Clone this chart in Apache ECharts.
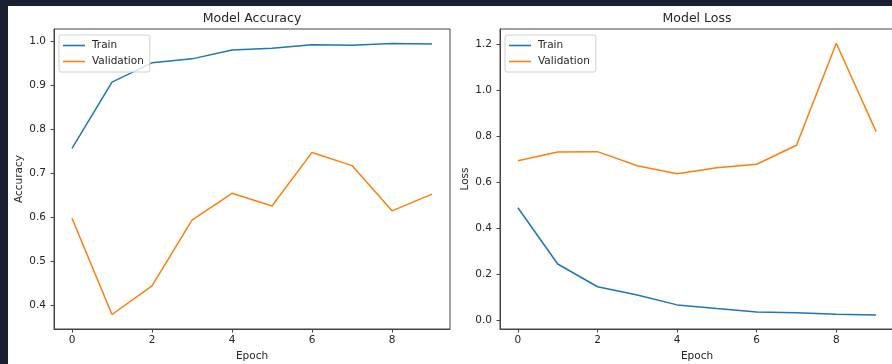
<!DOCTYPE html>
<html>
<head>
<meta charset="utf-8">
<script src="https://cdn.jsdelivr.net/npm/echarts@6/dist/echarts.min.js"></script>
<style>
html,body{margin:0;padding:0;background:#fff;}
#c{width:892px;height:364px;}
</style>
</head>
<body>
<div id="c"></div>
<script>
const epochs = [0,1,2,3,4,5,6,7,8,9];
const accTrain = [0.757,0.908,0.952,0.961,0.981,0.985,0.993,0.992,0.996,0.995];
const accVal = [0.598,0.379,0.444,0.594,0.655,0.626,0.748,0.718,0.615,0.653];
const lossTrain = [0.490,0.245,0.146,0.110,0.067,0.051,0.036,0.033,0.026,0.023];
const lossVal = [0.694,0.733,0.734,0.673,0.638,0.664,0.679,0.762,1.206,0.821];
const epochTicks = [0,2,4,6,8];
const accTicks = [0.4,0.5,0.6,0.7,0.8,0.9,1.0];
const lossTicks = [0.0,0.2,0.4,0.6,0.8,1.0,1.2];

const FONT = 'DejaVu Sans';
const TXT = '#262626';
const SPINE = '#444';
const BLUE = '#1f77b4';
const ORANGE = '#ff7f0e';

function pairs(ys){ return epochs.map((x,i)=>[x, ys[i]]); }

function xAx(gi){
  return {
    type:'value', gridIndex:gi, min:-0.45, max:9.45,
    name:'Epoch', nameLocation:'middle', nameGap:19,
    nameTextStyle:{fontFamily:FONT,fontSize:10.5,color:TXT},
    axisLine:{show:true,onZero:false,lineStyle:{color:SPINE,width:1}},
    axisTick:{show:true,length:3.5,lineStyle:{color:SPINE},customValues:epochTicks},
    axisLabel:{fontFamily:FONT,fontSize:10.5,color:TXT,margin:6,customValues:epochTicks,formatter:v=>String(Math.round(v))},
    splitLine:{show:false}
  };
}
function yAx(gi,name,min,max,ticks){
  return {
    type:'value', gridIndex:gi, min:min, max:max,
    name:name, nameLocation:'middle', nameGap:29,
    nameTextStyle:{fontFamily:FONT,fontSize:10.5,color:TXT},
    axisLine:{show:true,onZero:false,lineStyle:{color:SPINE,width:1}},
    axisTick:{show:true,length:3.5,lineStyle:{color:SPINE},customValues:ticks},
    axisLabel:{fontFamily:FONT,fontSize:10.5,color:TXT,margin:8,customValues:ticks,formatter:v=>v.toFixed(1)},
    splitLine:{show:false}
  };
}
function legend(left){
  return {
    left:left, top:35, orient:'vertical',
    data:[{name:'Train',icon:'rect'},{name:'Validation',icon:'rect'}],
    itemWidth:22, itemHeight:1.6, itemGap:5,
    padding:[5,6,5,4],
    borderColor:'#d0d0d0', borderWidth:1, borderRadius:2,
    backgroundColor:'rgba(255,255,255,0.8)',
    textStyle:{fontFamily:FONT,fontSize:10.5,color:TXT,padding:[0,0,0,2]},
    selectedMode:false
  };
}
function line(name,gi,ys,color){
  return {
    type:'line', name:name, xAxisIndex:gi, yAxisIndex:gi,
    data:pairs(ys), symbol:'none', showSymbol:false,
    lineStyle:{color:color,width:1.5}, itemStyle:{color:color},
    animation:false, z:3
  };
}

const chart = echarts.init(document.getElementById('c'), null, {renderer:'canvas'});
chart.setOption({
  animation:false,
  backgroundColor:'#fff',
  grid:[
    {left:54, top:29, width:396, height:300, outerBoundsMode:'none', containLabel:false, show:true, borderColor:SPINE, borderWidth:1, backgroundColor:'#fff'},
    {left:500, top:29, width:394, height:300, outerBoundsMode:'none', containLabel:false, show:true, borderColor:SPINE, borderWidth:1, backgroundColor:'#fff'}
  ],
  xAxis:[xAx(0), xAx(1)],
  yAxis:[yAx(0,'Accuracy',0.346,1.029,accTicks), yAx(1,'Loss',-0.038,1.268,lossTicks)],
  legend:[legend(59), legend(505)],
  series:[
    line('Train',0,accTrain,BLUE),
    line('Validation',0,accVal,ORANGE),
    line('Train',1,lossTrain,BLUE),
    line('Validation',1,lossVal,ORANGE)
  ],
  graphic:[
    {type:'text', x:252, y:19, z:10, style:{text:'Model Accuracy', fontFamily:FONT, fontSize:12.5, fill:TXT, align:'center', verticalAlign:'middle'}},
    {type:'text', x:697, y:19, z:10, style:{text:'Model Loss', fontFamily:FONT, fontSize:12.5, fill:TXT, align:'center', verticalAlign:'middle'}},
    {type:'rect', z:100, shape:{x:0,y:0,width:892,height:6}, style:{fill:'#1b2030'}},
    {type:'rect', z:100, shape:{x:0,y:0,width:8,height:364}, style:{fill:'#1b2030'}}
  ]
});
</script>
</body>
</html>
